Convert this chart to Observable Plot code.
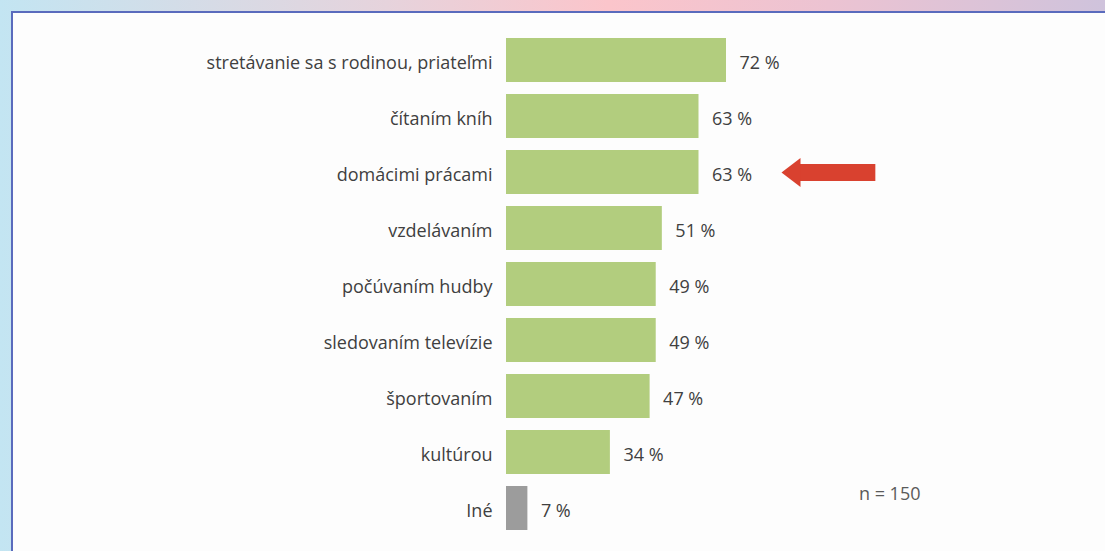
<!DOCTYPE html>
<html>
<head>
<meta charset="utf-8">
<script src="https://cdn.jsdelivr.net/npm/d3@7"></script>
<script src="https://cdn.jsdelivr.net/npm/@observablehq/plot@0.6"></script>
<style>
  html, body { margin: 0; padding: 0; width: 1105px; height: 551px; overflow: hidden; }
  body { background: linear-gradient(to right, #c3e5f2 0%, #e6d3dc 35%, #fbc5cb 55%, #ecc3d2 75%, #cfc3dc 100%); position: relative; }
  #panel { position: absolute; left: 11px; top: 11px; right: -10px; bottom: -10px; background: #fdfdfd; border-top: 2px solid #5a6bbd; border-left: 2px solid #5a6bbd; }
  #chart { position: absolute; left: 0; top: 0; }
</style>
</head>
<body>
<div id="panel"></div>
<div id="chart"></div>
<script>
const categories = ["stretávanie sa s rodinou, priateľmi", "čítaním kníh", "domácimi prácami", "vzdelávaním", "počúvaním hudby", "sledovaním televízie", "športovaním", "kultúrou", "Iné"];
const values = [72, 63, 63, 51, 49, 49, 47, 34, 7];
const valueLabels = ["72 %", "63 %", "63 %", "51 %", "49 %", "49 %", "47 %", "34 %", "7 %"];
const groups = ["main", "main", "main", "main", "main", "main", "main", "main", "other"];
const arrowTarget = ["domácimi prácami"];
const arrowTip = [90];
const arrowTail = [115.8];
const nLabel = ["n = 150"];

const data = categories.map((c, i) => ({category: c, value: values[i], label: valueLabels[i], group: groups[i]}));
const arrow = arrowTarget.map((c, i) => ({category: c, tip: arrowTip[i], tail: arrowTail[i]}));

// left-pointing arrowhead with its tip at the anchor point
const arrowHead = {
  draw(context) {
    context.moveTo(0, 0);
    context.lineTo(19, -14.5);
    context.lineTo(19, 14.5);
    context.closePath();
  }
};

const chart = Plot.plot({
  width: 1105,
  height: 551,
  marginLeft: 506,
  marginRight: 49,
  marginTop: 25,
  marginBottom: 8,
  style: {background: "transparent", fontFamily: "'Open Sans', sans-serif", color: "#404040"},
  x: {domain: [0, 180], axis: null},
  y: {domain: categories, padding: 0.218, axis: null},
  color: {domain: ["main", "other"], range: ["#b2cd7e", "#9c9c9c"]},
  marks: [
    Plot.barX(data, {x: "value", y: "category", fill: "group"}),
    Plot.text(data, {x: "value", y: "category", text: "label", dx: 13, dy: 3, textAnchor: "start", fontSize: 18, fill: "#404040"}),
    Plot.axisY({tickSize: 0, tickPadding: 14, fontSize: 18, label: null, fill: "#404040", dy: 3}),
    Plot.link(arrow, {x1: "tip", x2: "tail", y1: "category", y2: "category", dx: 15, stroke: "#d9412f", strokeWidth: 17, strokeLinecap: "butt"}),
    Plot.dot(arrow, {x: "tip", y: "category", symbol: arrowHead, fill: "#d9412f", stroke: "none"}),
    Plot.text(nLabel, {frameAnchor: "bottom-right", dx: -136, dy: -49, lineAnchor: "middle", textAnchor: "end", fontSize: 18, fontWeight: 500, fill: "#5a5a5a"})
  ]
});
document.getElementById("chart").appendChild(chart);
</script>
</body>
</html>
